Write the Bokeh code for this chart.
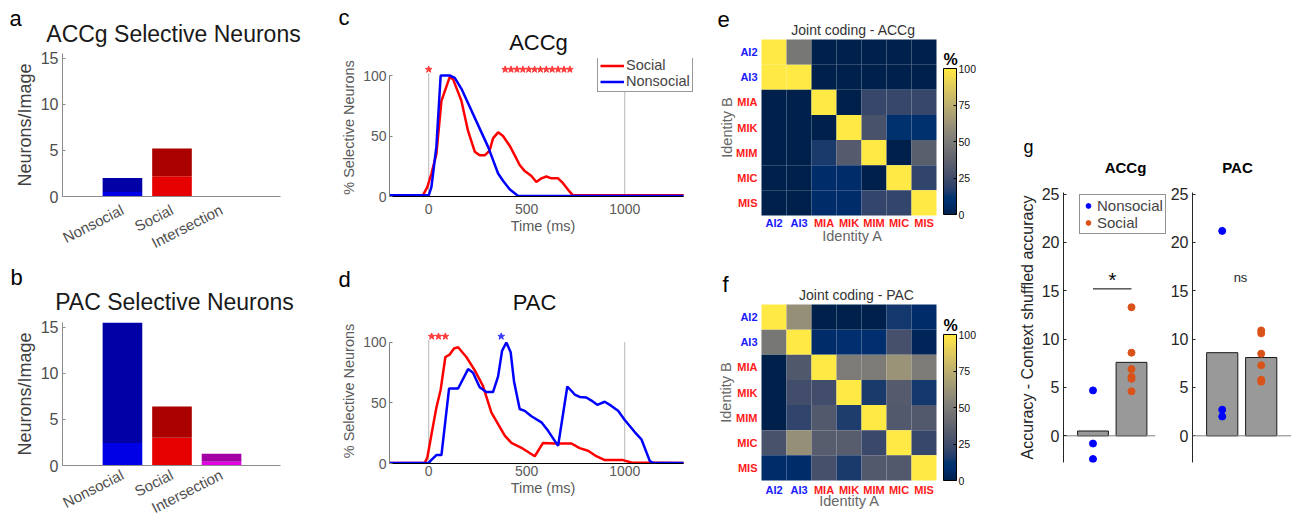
import math
from bokeh.plotting import figure
from bokeh.models import (Range1d, FixedTicker, Label, Legend, LegendItem, ColorBar,
                          LinearColorMapper, ColumnDataSource, Span)
from bokeh.palettes import Cividis256
from bokeh.layouts import row, column
from bokeh.embed import file_html
from bokeh.resources import INLINE

FONT = "Liberation Sans"

# ---------------- data ----------------
bar_categories = ["Nonsocial", "Social", "Intersection"]
acc_total = [2.0, 5.2, 0.0]
acc_lower = [0.5, 2.2, 0.0]
pac_total = [15.5, 6.4, 1.27]
pac_lower = [2.45, 3.0, 0.4]

acc_social_t = [-200, -30, -7, 14, 39, 65, 107, 124, 167, 201, 235, 260, 286, 311, 328, 354, 379,
                413, 439, 464, 490, 524, 549, 575, 600, 626, 660, 685, 711, 736, 1300]
acc_social_v = [1, 1, 7.7, 19, 35, 79, 98.6, 97, 79, 54, 37, 34, 34, 38, 48, 53, 50,
                42, 34, 26, 21, 17, 12, 15, 16.5, 15, 15, 11, 5.5, 1, 1]
acc_nonsocial_t = [-200, 0, 14, 39, 61, 107, 133, 167, 201, 252, 303, 354, 379, 413, 456, 1300]
acc_nonsocial_v = [1, 1, 8, 41, 100, 100, 98, 89, 77, 59, 41, 19, 13, 6, 0.5, 0.5]

pac_social_t = [-200, -20, -7, 14, 39, 61, 85, 107, 129, 150, 192, 235, 277, 320, 354, 388, 422,
                473, 541, 583, 643, 728, 770, 813, 855, 898, 991, 1034, 1300]
pac_social_v = [0.5, 0.5, 5, 24, 46, 61, 88, 90, 95, 96, 88, 77, 64, 42, 32.5, 23, 17,
                13, 6, 17, 16.5, 16.5, 12.7, 10.5, 6, 2.8, 2.8, 0.8, 0.5]
pac_nonsocial_t = [-200, 0, 14, 39, 65, 104, 150, 201, 226, 260, 294, 328, 354, 374, 396, 418, 435,
                   464, 490, 524, 575, 609, 660, 707, 745, 770, 804, 830, 860, 898, 932, 966, 1000,
                   1051, 1085, 1128, 1145, 1300]
pac_nonsocial_v = [0.5, 0.5, 3, 7, 7, 62, 62, 78, 75, 63, 59, 59, 72, 93, 100, 92, 68,
                   45, 43.5, 39, 34, 27, 14.6, 63.6, 57, 55, 54.5, 52, 48.5, 51, 47.6, 43.5, 36,
                   26, 20, 2, 0.5, 0.5]

acc_star_social_t = [0, 390, 420, 450, 480, 510, 540, 570, 600, 630, 660, 690, 720]
pac_star_social_t = [15, 50, 85]
pac_star_nonsocial_t = [370]
star_level = 105
event_times = [0, 1000]
time_limits = (-200, 1300)

identities = ["AI2", "AI3", "MIA", "MIK", "MIM", "MIC", "MIS"]
acc_joint = [
    [100, 48, 0, 0, 0, 0, 0],
    [100, 100, 0, 0, 0, 0, 0],
    [0, 0, 100, 0, 22, 22, 22],
    [0, 0, 0, 100, 28, 10, 10],
    [0, 0, 15, 33, 100, 0, 35],
    [0, 0, 7, 7, 0, 100, 20],
    [0, 0, 7, 7, 21, 21, 100],
]
pac_joint = [
    [100, 60, 0, 0, 0, 14, 7],
    [48, 100, 7, 8, 8, 27, 3],
    [0, 31, 100, 50, 50, 62, 50],
    [0, 25, 25, 100, 15, 33, 14],
    [0, 20, 32, 16, 100, 32, 32],
    [28, 60, 34, 34, 23, 100, 22],
    [7, 7, 27, 15, 32, 32, 100],
]

acc_bar = [0.5, 7.6]
pac_bar = [8.6, 8.1]
acc_nonsocial_pts = [4.7, -0.8, -2.4]
acc_social_pts = [13.3, 8.6, 6.9, 6.1, 5.9, 4.6]
pac_nonsocial_pts = [21.2, 2.7, 2.0]
pac_social_pts = [10.9, 10.6, 8.5, 7.3, 5.8, 5.6]
acc_sig_level = 15.2

# ---------------- styles ----------------
dark_colors = ["#0000a6", "#ab0000", "#a300a6"]
light_colors = ["#0000e6", "#e60000", "#e600e6"]
RED = "#ff0000"
BLUE = "#0000ff"
ORANGE = "#d95319"
id_colors = ["#1a1aff", "#1a1aff", "#ff1a1a", "#ff1a1a", "#ff1a1a", "#ff1a1a", "#ff1a1a"]


def make_fig(w, h, l, r, t, b, xr, yr, x_axis=True, y_axis=True):
    p = figure(width=w, height=h, x_range=Range1d(*xr), y_range=Range1d(*yr),
               output_backend="svg", toolbar_location=None,
               x_axis_type="linear" if x_axis else None,
               y_axis_type="linear" if y_axis else None,
               min_border_left=l, min_border_right=r, min_border_top=t, min_border_bottom=b)
    p.outline_line_color = None
    p.grid.visible = False
    p.border_fill_color = "white"
    p.background_fill_color = "white"
    return p


def px_mapper(frame, xr, yr):
    L, T, R, B = frame

    def f(X, Y):
        return (xr[0] + (X - L) / (R - L) * (xr[1] - xr[0]),
                yr[0] + (B - Y) / (B - T) * (yr[1] - yr[0]))
    return f


def put(p, m, X, Y, text, size, color="#000000", bold=False, align="left",
        baseline="alphabetic", angle=0.0):
    # Y is the text baseline for "alphabetic"; it is drawn centred on the middle of the line box
    if baseline == "alphabetic":
        Y = Y - 0.35 * size
        baseline = "middle"
    x, y = m(X, Y)
    p.add_layout(Label(x=x, y=y, text=text, text_font=FONT, text_font_size=f"{size}px",
                       text_color=color, text_font_style="bold" if bold else "normal",
                       text_align=align, text_baseline=baseline, angle=angle))


def header(x0, y0, x1, y1):
    """Text-only strip whose frame covers the whole canvas."""
    xr = (0, x1 - x0)
    yr = (0, y1 - y0)
    p = make_fig(x1 - x0, y1 - y0, 0, 0, 0, 0, xr, yr, x_axis=False, y_axis=False)
    return p, px_mapper((x0, y0, x1, y1), xr, yr)


def style_axis(ax, tick_size, tick_color, line_color, label_size=None, label_color=None,
               tick_in=3, standoff=4, label_standoff=3):
    ax.major_label_text_font = FONT
    ax.major_label_text_font_size = f"{tick_size}px"
    ax.major_label_text_color = tick_color
    ax.axis_line_color = line_color
    ax.major_tick_line_color = line_color
    ax.minor_tick_line_color = None
    ax.major_tick_in = tick_in
    ax.major_tick_out = 0
    ax.major_label_standoff = standoff
    ax.axis_label_text_font = FONT
    ax.axis_label_text_font_style = "normal"
    ax.axis_label_standoff = label_standoff
    if label_size:
        ax.axis_label_text_font_size = f"{label_size}px"
        ax.axis_label_text_color = label_color


# ---------------- panels a / b ----------------
def bar_panel(total, lower, h, top, bottom, label_standoff):
    xr = (-0.21, 4.19)
    yr = (0, 15.5)
    p = make_fig(330, h, 62, 50, top, bottom, xr, yr)
    xs = [1, 2, 3]
    p.vbar(x=xs, width=0.8, bottom=0, top=lower, fill_color=light_colors, line_color=None)
    p.vbar(x=xs, width=0.8, bottom=lower, top=total, fill_color=dark_colors, line_color=None)
    style_axis(p.yaxis[0], 16, "#4d4d4d", "#8c8c8c", 18, "#404040", standoff=4, label_standoff=3)
    p.yaxis.ticker = FixedTicker(ticks=[0, 5, 10, 15])
    p.yaxis.axis_label = "Neurons/Image"
    style_axis(p.xaxis[0], 15, "#4d4d4d", "#8c8c8c", tick_in=0, standoff=label_standoff)
    p.xaxis.ticker = FixedTicker(ticks=xs)
    p.xaxis.major_label_overrides = {i + 1: c for i, c in enumerate(bar_categories)}
    p.xaxis.major_label_orientation = math.radians(27)
    return p


ha, ma = header(0, 0, 330, 48)
put(ha, ma, 9, 26, "a", 22)
put(ha, ma, 173, 41.7, "ACCg Selective Neurons", 23, "#1a1a1a", align="center")
pa = bar_panel(acc_total, acc_lower, 214, 5, 66, 12)

hb, mb = header(0, 262, 330, 316)
put(hb, mb, 10, 285, "b", 22)
put(hb, mb, 174, 310, "PAC Selective Neurons", 23, "#1a1a1a", align="center")
pb = bar_panel(pac_total, pac_lower, 210, 6, 61, 8)


# ---------------- panels c / d ----------------
def time_panel(h, bottom, y_top, soc_t, soc_v, non_t, non_v, s_star, n_star,
               tick_standoff, with_legend):
    xr = (time_limits[0], 1366)
    yr = (0, y_top)
    p = make_fig(370, h, 59, 4, 0, bottom, xr, yr)
    p.segment(x0=event_times, y0=[0, 0], x1=event_times, y1=[102, 100],
              line_color="#6e6e6e", line_width=1, line_dash="1 1")
    rs = p.line(soc_t, soc_v, line_color=RED, line_width=2.5)
    rn = p.line(non_t, non_v, line_color=BLUE, line_width=2.5)
    if s_star:
        p.scatter(s_star, [star_level] * len(s_star), marker="star", size=7,
                  fill_color="#ff3b3b", line_color="#ff3b3b")
    if n_star:
        p.scatter(n_star, [star_level] * len(n_star), marker="star", size=7,
                  fill_color="#3b3bff", line_color="#3b3bff")
    style_axis(p.yaxis[0], 14, "#5a5a5a", "#808080", 14.5, "#5a5a5a", standoff=3, label_standoff=3)
    p.yaxis.ticker = FixedTicker(ticks=[0, 50, 100])
    p.yaxis.bounds = (0, 100)
    p.yaxis.axis_label = "% Selective Neurons"
    style_axis(p.xaxis[0], 14, "#5a5a5a", "#000000", 14.5, "#5a5a5a", tick_in=0,
               standoff=tick_standoff, label_standoff=1)
    p.xaxis.ticker = FixedTicker(ticks=[0, 500, 1000])
    p.xaxis.bounds = time_limits
    p.xaxis.axis_label = "Time (ms)"
    if with_legend:
        leg = Legend(items=[LegendItem(label="Social", renderers=[rs]),
                            LegendItem(label="Nonsocial", renderers=[rn])],
                     location=(208, 104), margin=0, padding=2, spacing=0,
                     glyph_width=24, glyph_height=15, label_height=15, label_standoff=2,
                     label_text_font=FONT, label_text_font_size="14.5px",
                     border_line_color="#333333", border_line_width=1,
                     background_fill_color="white", background_fill_alpha=1.0)
        p.add_layout(leg)
    return p


hc, mc = header(330, 0, 700, 58)
put(hc, mc, 338, 25, "c", 22)
put(hc, mc, 538, 50, "ACCg", 22, "#111111", align="center")
pc = time_panel(200, 62, 114.05, acc_social_t, acc_social_v,
                acc_nonsocial_t, acc_nonsocial_v, acc_star_social_t, [], 7, True)

hd, md = header(330, 258, 700, 318)
put(hd, md, 338, 286.7, "d", 22)
put(hd, md, 534, 310, "PAC", 22, "#111111", align="center")
pd_ = time_panel(208, 63, 119.8, pac_social_t, pac_social_v,
                 pac_nonsocial_t, pac_nonsocial_v, pac_star_social_t, pac_star_nonsocial_t,
                 2, False)


# ---------------- panels e / f ----------------
mapper = LinearColorMapper(palette=Cividis256, low=0, high=100)


def heat_panel(mat, canvas, cells, title, title_xy, letter, letter_xy, xlab_y, xtitle_xy,
               ytitle_x, cb_bottom, pct_xy):
    X0, Y0, X1, Y1 = canvas
    L, T, R, B = cells
    cw = (R - L) / 7
    ch = (B - T) / 7
    xr = (-(L - X0) / cw, 7 + (X1 - R) / cw)
    yr = (-(Y1 - B) / ch, 7 + (T - Y0) / ch)
    p = make_fig(X1 - X0, Y1 - Y0, 0, 0, 0, 0, xr, yr, x_axis=False, y_axis=False)
    m = px_mapper(canvas, xr, yr)
    xs, ys, vs = [], [], []
    for i, rowv in enumerate(mat):
        for j, v in enumerate(rowv):
            xs.append(j + 0.5)
            ys.append(6.5 - i)
            vs.append(v)
    src = ColumnDataSource(dict(x=xs, y=ys, v=vs))
    p.rect(x="x", y="y", width=1, height=1, source=src,
           fill_color={"field": "v", "transform": mapper}, line_color=None)
    for k, name in enumerate(identities):
        put(p, m, L - 4, T + (k + 0.5) * ch, name, 11, id_colors[k], bold=True,
            align="right", baseline="middle")
        put(p, m, L + (k + 0.5) * cw, xlab_y, name, 11, id_colors[k], bold=True,
            align="center", baseline="middle")
    put(p, m, xtitle_xy[0], xtitle_xy[1], "Identity A", 14.5, "#666666",
        align="center", baseline="middle")
    put(p, m, ytitle_x, (T + B) / 2, "Identity B", 14.5, "#666666",
        align="center", baseline="middle", angle=math.pi / 2)
    put(p, m, title_xy[0], title_xy[1], title, 14, "#333333", align="center")
    put(p, m, letter_xy[0], letter_xy[1], letter, 22)
    put(p, m, pct_xy[0], pct_xy[1], "%", 16, "#000000", bold=True, align="center")
    cb = ColorBar(color_mapper=mapper, ticker=FixedTicker(ticks=[0, 25, 50, 75, 100]),
                  width=13, height=146, location=(943 - X0, Y1 - cb_bottom),
                  padding=0, margin=0,
                  major_label_text_font=FONT, major_label_text_font_size="10.5px",
                  major_label_text_color="#111111",
                  label_standoff=2, major_tick_line_color="black", major_tick_in=3,
                  major_tick_out=0, bar_line_color="black", background_fill_alpha=0,
                  border_line_color=None)
    p.add_layout(cb)
    return p


pe = heat_panel(acc_joint, (700, 0, 990, 258), (761, 39, 936, 215), "Joint coding - ACCg",
                (853, 34), "e", (717, 26.7), 222, (852, 235), 726, 214, (950, 65))
pf = heat_panel(pac_joint, (700, 258, 990, 526), (761, 304, 936, 480), "Joint coding - PAC",
                (856, 299), "f", (722, 291.7), 489, (849, 500.7), 725, 480, (950, 330.7))


# ---------------- panel g ----------------
g_yr = (-2.76, 25.17)


def acc_panel(w, l, frame, xr, bars, ns_pts, s_pts, ylabel):
    p = make_fig(w, 346, l, 0, 12, 64, xr, g_yr, x_axis=False)
    p.vbar(x=[1, 2], width=0.8, bottom=0, top=bars, fill_color="#999999",
           line_color="#1a1a1a", line_width=1)
    r1 = p.scatter([1] * len(ns_pts), ns_pts, size=7, fill_color=BLUE, line_color=BLUE)
    r2 = p.scatter([2] * len(s_pts), s_pts, size=7, fill_color=ORANGE, line_color=ORANGE)
    style_axis(p.yaxis[0], 16, "#262626", "#262626", 16, "#262626", standoff=4, label_standoff=3)
    p.yaxis.ticker = FixedTicker(ticks=[0, 5, 10, 15, 20, 25])
    if ylabel:
        p.yaxis.axis_label = ylabel
    return p, r1, r2, px_mapper(frame, xr, g_yr)


hg, mg = header(990, 0, 1291, 180)
put(hg, mg, 1023, 152.7, "g", 18)
put(hg, mg, 1125, 172.3, "ACCg", 15, "#000000", bold=True, align="center")
put(hg, mg, 1237, 172.3, "PAC", 15, "#000000", bold=True, align="center")

acc_xr = (0.234, 2.935)
acc_zero_end = 2.62
pg1, g1a, g1b, m1 = acc_panel(177, 73, (1063, 192, 1167, 462), acc_xr,
                              acc_bar, acc_nonsocial_pts, acc_social_pts,
                              "Accuracy - Context shuffled accuracy")
pg1.segment(x0=[acc_xr[0]], x1=[acc_zero_end], y0=[0], y1=[0], line_color="#7f7f7f", line_width=1)
pg1.segment(x0=[1], x1=[2], y0=[acc_sig_level], y1=[acc_sig_level], line_color="black", line_width=1)
put(pg1, m1, 1112, 286, "*", 20, "#000000", align="center")
leg_g = Legend(items=[LegendItem(label="Nonsocial", renderers=[g1a]),
                      LegendItem(label="Social", renderers=[g1b])],
               location=(16, 228), margin=0, padding=2, spacing=0,
               glyph_width=12, glyph_height=15, label_height=15, label_standoff=3,
               label_text_font=FONT, label_text_font_size="15px",
               border_line_color="#262626", border_line_width=1,
               background_fill_color="white", background_fill_alpha=1.0)
pg1.add_layout(leg_g)

pac_xr = (0.238, 2.777)
pg2, _, _, m2 = acc_panel(124, 25, (1192, 192, 1291, 462), pac_xr,
                          pac_bar, pac_nonsocial_pts, pac_social_pts, None)
pg2.add_layout(Span(location=0, dimension="width", line_color="#7f7f7f", line_width=1))
put(pg2, m2, 1240, 276.7, "ns", 13, "#262626", align="center", baseline="middle")

layout = row(column(row(ha), pa, row(hb), pb),
             column(row(hc), pc, row(hd), pd_),
             column(pe, pf),
             column(hg, row(pg1, pg2)))

open("out.html", "w").write(file_html(layout, INLINE, "figure"))
